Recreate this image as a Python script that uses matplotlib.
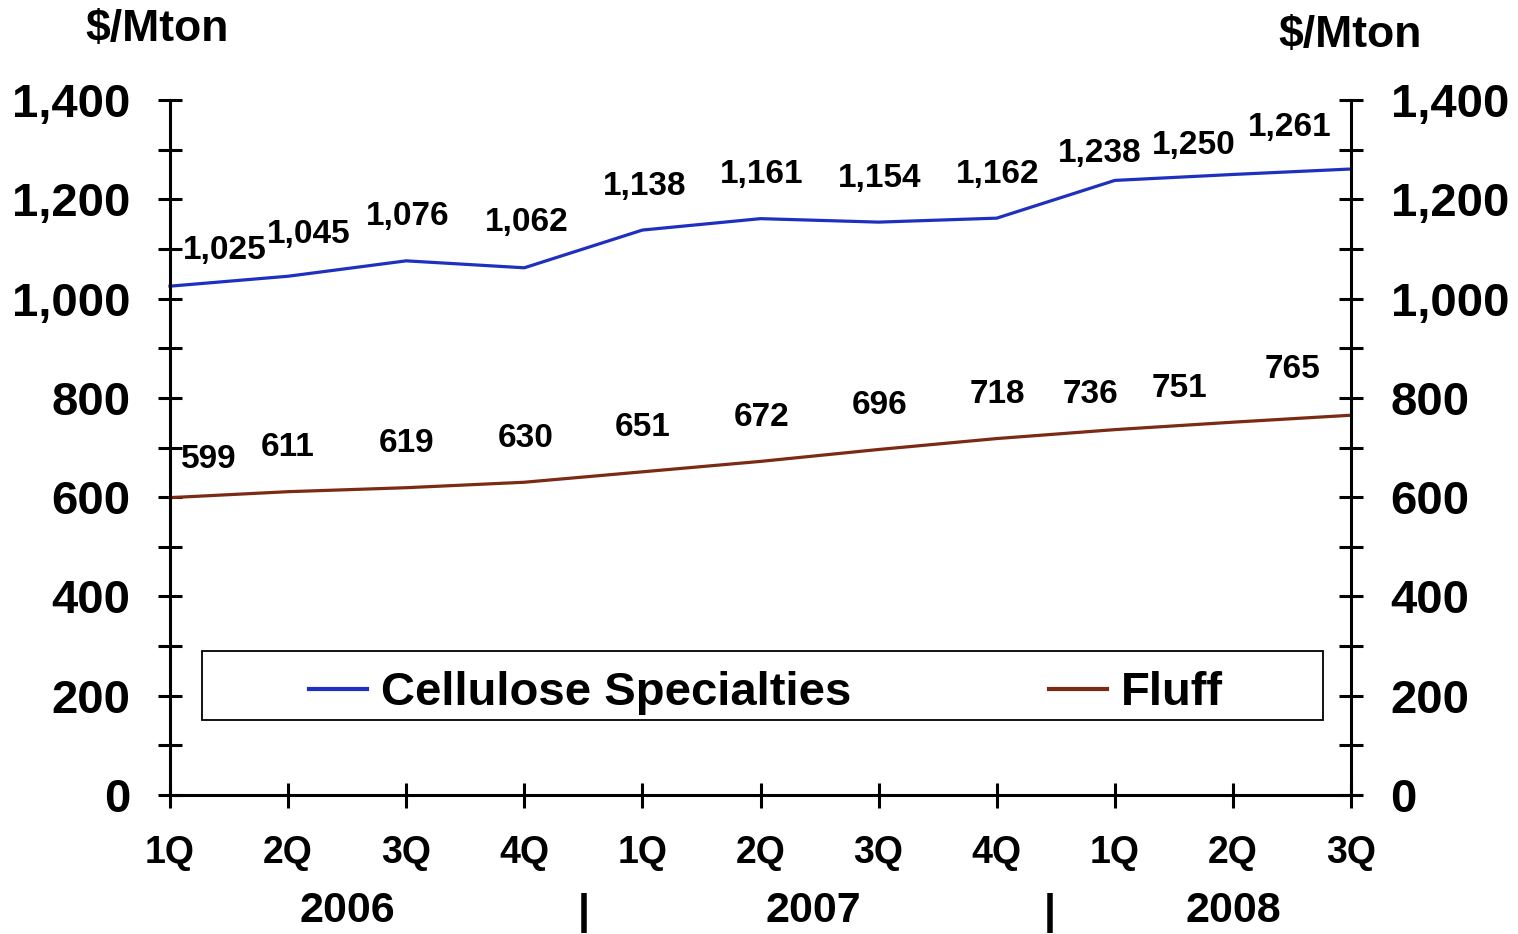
import matplotlib
matplotlib.use("Agg")
import matplotlib.pyplot as plt
from matplotlib.ticker import MultipleLocator, FuncFormatter
from matplotlib.patches import Rectangle
import matplotlib.transforms as mtransforms

plt.rcParams['font.family'] = ['Liberation Sans', 'DejaVu Sans']
plt.rcParams['font.weight'] = 'bold'

# data
quarters = ["1Q", "2Q", "3Q", "4Q", "1Q", "2Q", "3Q", "4Q", "1Q", "2Q", "3Q"]
years = ["2006", "2007", "2008"]
cellulose = [1025, 1045, 1076, 1062, 1138, 1161, 1154, 1162, 1238, 1250, 1261]
fluff = [599, 611, 619, 630, 651, 672, 696, 718, 736, 751, 765]

# label offsets in pixels (dx, dy above the point)
cell_off = [(55, 36), (21, 42), (1, 44), (2, 45), (2, 44), (1, 44), (1, 44),
            (1, 44), (-15, 27), (-39, 29), (-61, 42)]
fluff_off = [(39, 38), (0, 44), (0, 44), (1, 44), (0, 44), (1, 44), (1, 44),
             (1, 44), (-24, 35), (-53, 34), (-58, 46)]

blue = "#1f30bf"
brown = "#7b2a14"
DPI = 100

fig = plt.figure(figsize=(15.18, 9.34), dpi=DPI)
ax = fig.add_axes([170 / 1518, 1 - 795 / 934, 1181 / 1518, 695 / 934])

x = list(range(len(quarters)))
ax.plot(x, cellulose, color=blue, lw=2.3, label="Cellulose Specialties", clip_on=False)
ax.plot(x, fluff, color=brown, lw=2.3, label="Fluff", clip_on=False)

for xi, v, (dx, dy) in zip(x, cellulose, cell_off):
    ax.annotate(f"{v:,}", (xi, v), xytext=(dx * 72 / DPI, dy * 72 / DPI),
                textcoords="offset points", ha="center", va="center",
                fontsize=24, fontweight="bold")
for xi, v, (dx, dy) in zip(x, fluff, fluff_off):
    ax.annotate(f"{v:,}", (xi, v), xytext=(dx * 72 / DPI, dy * 72 / DPI),
                textcoords="offset points", ha="center", va="center",
                fontsize=24, fontweight="bold")

ax.set_xlim(0, len(quarters) - 1)
ax.set_ylim(0, 1400)
ax.yaxis.set_major_locator(MultipleLocator(200))
ax.yaxis.set_minor_locator(MultipleLocator(100))
ax.yaxis.set_major_formatter(FuncFormatter(lambda v, p: f"{v:,.0f}"))
ax.set_xticks(x)
ax.set_xticklabels(quarters)

ax.spines["top"].set_visible(False)
for s in ["left", "right", "bottom"]:
    ax.spines[s].set_linewidth(2.2)

ax.tick_params(axis="y", which="both", direction="inout", length=17, width=2.2,
               left=True, right=True, labelleft=True, labelright=True,
               labelsize=34, pad=20)
ax.tick_params(axis="x", direction="inout", length=18, width=2.2,
               labelsize=27, pad=20)
for lab in ax.get_xticklabels() + ax.get_yticklabels():
    lab.set_fontweight("bold")

# year labels and separators below the quarter labels
trans = mtransforms.blended_transform_factory(ax.transData, ax.transAxes)
for xp, yr in zip([1.5, 5.45, 9.0], years):
    ax.text(xp, -0.167, yr, transform=trans, ha="center", va="center",
            fontsize=31, fontweight="bold", clip_on=False)
for xp in [3.5, 7.45]:
    ax.text(xp, -0.170, "|", transform=trans, ha="center", va="center",
            fontsize=31, fontweight="bold", clip_on=False)

# legend box and legend
ax.add_patch(Rectangle((0.0271, 0.1079), 0.9492, 0.0993, transform=ax.transAxes,
                       facecolor="white", edgecolor="black", lw=1.3, zorder=3))
leg = ax.legend(loc="center", bbox_to_anchor=(0.5047, 0.1465), ncol=2,
                frameon=False, fontsize=34, handlelength=1.22, handletextpad=0.3,
                columnspacing=4.2, borderpad=0)
for t in leg.get_texts():
    t.set_fontweight("bold")
for ln in leg.get_lines():
    ln.set_linewidth(3)
leg.set_zorder(4)

fig.text(157 / 1518, 1 - 30 / 934, "$/Mton", ha="center", va="center",
         fontsize=32, fontweight="bold")
fig.text(1350 / 1518, 1 - 35 / 934, "$/Mton", ha="center", va="center",
         fontsize=32, fontweight="bold")

fig.savefig("out.png", dpi=DPI)
